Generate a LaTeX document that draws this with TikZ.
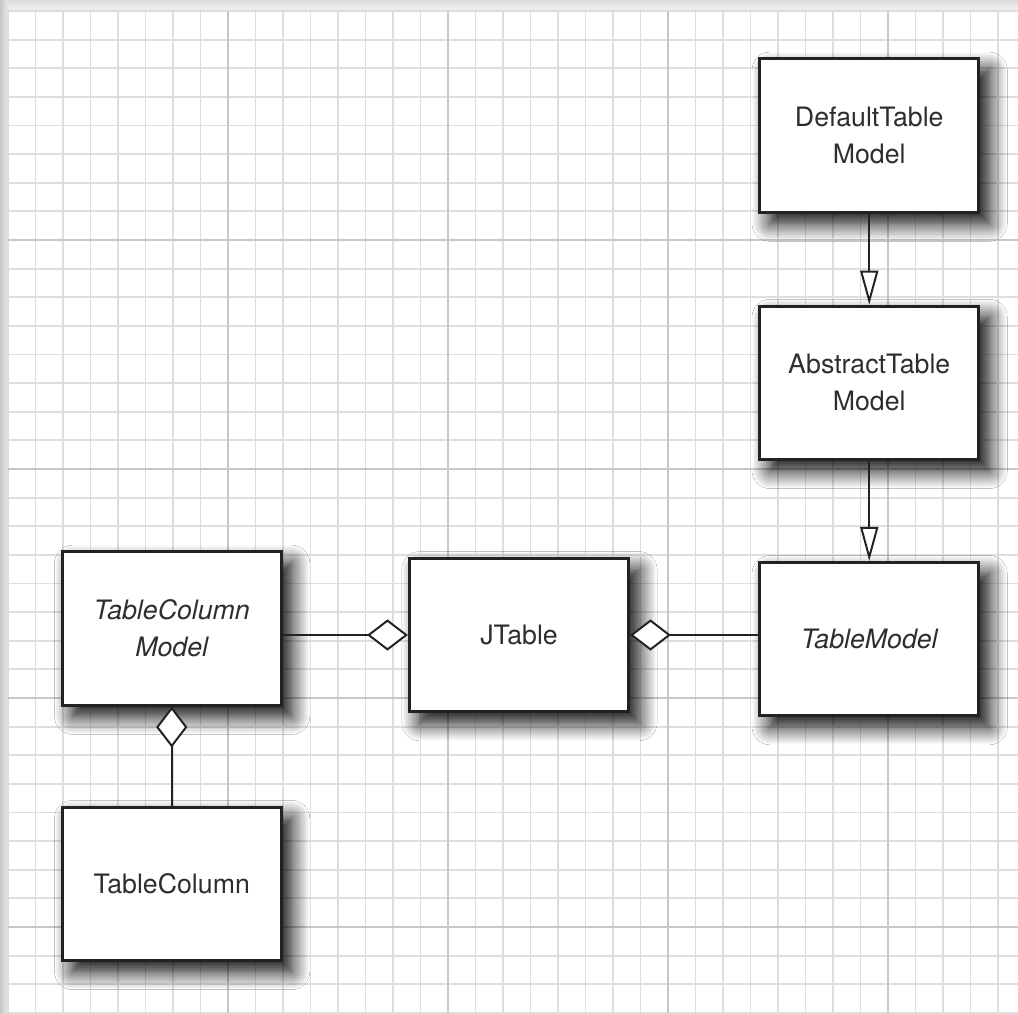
\documentclass[tikz,border=0pt]{standalone}
\usepackage{fontspec}
\setmainfont{TeX Gyre Heros}
\usetikzlibrary{arrows.meta, positioning, shadows.blur}

\definecolor{gridminor}{HTML}{DEDEDE}
\definecolor{gridmajor}{HTML}{C8C8C8}
\definecolor{boxline}{HTML}{222222}
\definecolor{labeltext}{HTML}{2E2E2E}

\begin{document}
\begin{tikzpicture}[
    x=0.025cm, y=0.025cm,
    node distance=2.5cm,
    cls/.style={
        rectangle,
        draw=boxline,
        line width=2.1pt,
        fill=white,
        align=center,
        minimum width=5.48cm,
        minimum height=3.83cm,
        text=labeltext,
        font=\fontsize{19}{26.3}\selectfont,
        blur shadow={shadow xshift=0.26cm, shadow yshift=-0.28cm,
            shadow blur radius=0.45cm, shadow blur steps=12, shadow opacity=100}
    },
    abstractcls/.style={cls, font=\fontsize{19}{26.3}\selectfont\itshape},
    inherit/.style={-{Triangle[length=0.85cm, width=0.45cm, fill=white]},
        draw=boxline, line width=1.4pt},
    aggregate/.style={-{Diamond[length=1.02cm, width=0.78cm, fill=white]},
        draw=boxline, line width=1.4pt}
]
\useasboundingbox (0,0) rectangle (1018,1013);

% paper and grid
\fill[white] (0,0) rectangle (1018,1013);
\shade[left color=black!22, right color=black!8] (0,0) rectangle (8,1013);
\shade[top color=black!14, bottom color=black!5] (8,1002) rectangle (1018,1013);
\foreach \k in {0,...,36}
    \draw[gridminor, line width=1.4pt] ({8+27.5*\k},0) -- ({8+27.5*\k},1002);
\foreach \k in {0,...,35}
    \draw[gridminor, line width=1.4pt] (8,{1002-28.625*\k}) -- (1018,{1002-28.625*\k});
\foreach \k in {1,...,4}
    \draw[gridmajor, line width=1.4pt] ({8+220*\k},0) -- ({8+220*\k},1002);
\foreach \k in {1,...,4}
    \draw[gridmajor, line width=1.4pt] (8,{1002-229*\k}) -- (1018,{1002-229*\k});

% classes
\node[cls] (jtable) at (519,378) {JTable};
\node[abstractcls, right=3.2cm of jtable, yshift=-0.1cm] (tablemodel) {TableModel};
\node[abstractcls, left=3.125cm of jtable, yshift=0.16cm] (columnmodel) {TableColumn\\Model};
\node[cls, below=2.475cm of columnmodel] (column) {TableColumn};
\node[cls, above=2.5cm of tablemodel] (abstractmodel) {AbstractTable\\Model};
\node[cls, above=2.275cm of abstractmodel] (defaultmodel) {DefaultTable\\Model};

% relations
\draw[inherit] (defaultmodel) -- (abstractmodel);
\draw[inherit] (abstractmodel) -- (tablemodel);
\draw[aggregate] (columnmodel.east |- jtable.west) -- (jtable.west);
\draw[aggregate] (tablemodel.west |- jtable.east) -- (jtable.east);
\draw[aggregate] (column.north) -- (column.north |- columnmodel.south);

\end{tikzpicture}
\end{document}
